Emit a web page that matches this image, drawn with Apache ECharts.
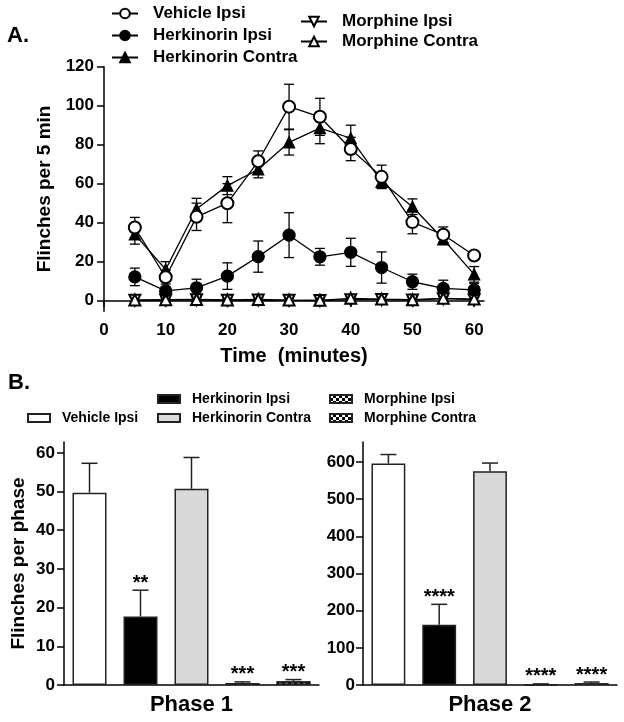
<!DOCTYPE html>
<html><head><meta charset="utf-8">
<script src="https://cdn.jsdelivr.net/npm/echarts@6/dist/echarts.min.js"></script>
<style>html,body{margin:0;padding:0;background:#fff}#c{width:624px;height:722px}</style>
</head><body><div id="c"></div>
<script>
// ---------- Panel A data (time course) ----------
const timeMin = [5, 10, 15, 20, 25, 30, 35, 40, 45, 50, 55, 60];
const vehicleIpsi = [37.5, 12, 43, 50, 71.5, 99.5, 94.3, 77.8, 63.5, 40.3, 33.8, 23.2];
const vehicleIpsiErr = [5.2, 3.5, 7, 10, 5.3, 11.5, 9.5, 6, 6, 6, 4, 1.2];
const herkIpsi = [12.2, 5, 6.6, 12.6, 22.6, 33.6, 22.5, 24.8, 17, 9.7, 6.3, 5.5];
const herkIpsiErr = [4.5, 2, 4.4, 6.8, 8, 11.5, 4.3, 7.2, 8, 3.9, 4.2, 3.4];
const herkContra = [34, 16, 47, 59, 67.3, 81.2, 88.5, 83.3, 61, 48.2, 31.5, 13.5];
const herkContraErr = [5, 4, 5.5, 4.6, 4.3, 6.5, 8, 6.7, 3, 4, 1.5, 4];
const morphIpsi = [0.2, 0.3, 0.5, 0.2, 0.3, 0.2, 0.1, 0.5, 0.6, 0.3, 1.0, 0.5];
const morphIpsiErr = [1.5, 1.2, 1.2, 1.2, 1.2, 1.0, 1.0, 1.2, 1.5, 1.2, 1.5, 1.2];
const morphContra = [0.4, 0.5, 0.6, 0.4, 0.6, 0.3, 0.2, 1.2, 0.8, 0.5, 1.2, 0.8];
const morphContraErr = [1.5, 1.2, 1.2, 1.2, 1.2, 1.0, 1.0, 1.5, 1.5, 1.2, 1.5, 1.5];
const xTicksA = [0, 10, 20, 30, 40, 50, 60];
const yTicksA = [0, 20, 40, 60, 80, 100, 120];

// ---------- Panel B data (phases) ----------
const groups = ['Vehicle Ipsi', 'Herkinorin Ipsi', 'Herkinorin Contra', 'Morphine Ipsi', 'Morphine Contra'];
const phase1Mean = [49.7, 17.7, 50.7, 0.5, 1.0];
const phase1Sem = [7.6, 6.8, 8.1, 0.3, 0.4];
const phase1Stars = ['', '**', '', '***', '***'];
const phase2Mean = [596, 162, 575, 2, 5];
const phase2Sem = [24, 55, 22, 1, 3];
const phase2Stars = ['', '****', '', '****', '****'];
const yTicksB1 = [0, 10, 20, 30, 40, 50, 60];
const yTicksB2 = [0, 100, 200, 300, 400, 500, 600];

const FONT = '"Liberation Sans", Arial, Helvetica, sans-serif';
const chart = echarts.init(document.getElementById('c'), null, {renderer: 'canvas'});

const axisLine = {show: true, lineStyle: {color: '#000', width: 1.5}};
const tickLbl = {fontFamily: FONT, fontWeight: 'bold', fontSize: 17, color: '#000'};

function errSeriesA(ys, es) {
  return {
    type: 'custom', xAxisIndex: 0, yAxisIndex: 0, silent: true, z: 1,
    data: timeMin.map((t, i) => [t, ys[i], es[i]]),
    encode: {x: 0, y: 1},
    renderItem: (params, api) => {
      const x = api.value(0), y = api.value(1), e = api.value(2);
      const top = api.coord([x, y + e]), bot = api.coord([x, y - e]);
      const c = 5, st = {stroke: '#000', lineWidth: 1.3};
      return {type: 'group', children: [
        {type: 'line', shape: {x1: top[0], y1: top[1], x2: bot[0], y2: bot[1]}, style: st},
        {type: 'line', shape: {x1: top[0] - c, y1: top[1], x2: top[0] + c, y2: top[1]}, style: st},
        {type: 'line', shape: {x1: bot[0] - c, y1: bot[1], x2: bot[0] + c, y2: bot[1]}, style: st}
      ]};
    }
  };
}

function lineSeries(name, ys, symbol, extra) {
  return Object.assign({
    type: 'line', name: name, xAxisIndex: 0, yAxisIndex: 0,
    data: timeMin.map((t, i) => [t, ys[i]]),
    symbol: symbol, symbolSize: 12, z: 3,
    lineStyle: {color: '#000', width: 1.3},
    itemStyle: {color: '#000', borderColor: '#000', borderWidth: 1.3}
  }, extra || {});
}

const checker = {symbol: 'rect', symbolSize: 1, color: '#000',
  dashArrayX: [[3, 3], [0, 3, 3, 0]], dashArrayY: [3, 0], rotation: 0};
const fills = ['#ffffff', '#000000', '#d9d9d9', '#ffffff', '#ffffff'];
const decals = [null, null, null, checker, checker];

function barSeries(k, means) {
  return groups.map((g, i) => {
    const st = {color: fills[i], borderColor: '#222', borderWidth: 1.5};
    if (decals[i]) st.decal = decals[i];
    return {type: 'bar', name: 'B:' + g, xAxisIndex: k, yAxisIndex: k,
      data: [means[i]], barGap: '50%', barCategoryGap: '6.667%', itemStyle: st, z: 2};
  });
}

function barErrSeries(k, means, sems, stars) {
  return {
    type: 'custom', xAxisIndex: k, yAxisIndex: k, silent: true, z: 5,
    data: means.map((m, i) => [0, m, sems[i], i]),
    encode: {x: 0, y: 1},
    renderItem: (params, api) => {
      const m = api.value(1), e = api.value(2), i = api.value(3);
      const band = api.size([1, 0])[0];
      const cx = api.coord([0, 0])[0] + (i - 2) * band / 5;
      const yTop = api.coord([0, m + e])[1];
      const yM = api.coord([0, m])[1];
      const st = {stroke: '#222', lineWidth: 1.5};
      const ch = [
        {type: 'line', shape: {x1: cx, y1: yM, x2: cx, y2: yTop}, style: st},
        {type: 'line', shape: {x1: cx - 8, y1: yTop, x2: cx + 8, y2: yTop}, style: st}
      ];
      if (stars[i]) ch.push({type: 'text', style: {text: stars[i], x: cx, y: yTop - 7,
        align: 'center', verticalAlign: 'middle', font: 'bold 20px ' + FONT, fill: '#000'}});
      return {type: 'group', children: ch};
    }
  };
}

const legendTextA = {fontFamily: FONT, fontWeight: 'bold', fontSize: 17, color: '#000', lineHeight: 17};
const legendTextB = {fontFamily: FONT, fontWeight: 'bold', fontSize: 14, color: '#000', lineHeight: 16};

const option = {
  animation: false,
  backgroundColor: '#fff',
  title: [
    {text: 'A.', left: 7, top: 25, padding: 0, textStyle: {fontFamily: FONT, fontWeight: 'bold', fontSize: 22, color: '#000'}},
    {text: 'B.', left: 8, top: 372, padding: 0, textStyle: {fontFamily: FONT, fontWeight: 'bold', fontSize: 22, color: '#000'}}
  ],
  legend: [
    {orient: 'vertical', left: 111, top: 5, padding: 0, itemWidth: 26, itemHeight: 12, itemGap: 5, selectedMode: false,
      iconRotate: 'inherit', data: ['Vehicle Ipsi', 'Herkinorin Ipsi', 'Herkinorin Contra'],
      textStyle: Object.assign({padding: [0, 0, 0, 10]}, legendTextA)},
    {orient: 'vertical', left: 300, top: 13, padding: 0, itemWidth: 26, itemHeight: 12, itemGap: 3, selectedMode: false,
      iconRotate: 'inherit', data: ['Morphine Ipsi', 'Morphine Contra'],
      textStyle: Object.assign({padding: [0, 0, 0, 10]}, legendTextA)},
    {orient: 'vertical', left: 27, top: 410, padding: 0, itemWidth: 22, itemHeight: 8, itemGap: 3, selectedMode: false,
      icon: 'rect', data: ['B:Vehicle Ipsi'], formatter: n => n.replace(/^B:/, ''),
      textStyle: Object.assign({padding: [0, 0, 0, 7]}, legendTextB)},
    {orient: 'vertical', left: 157, top: 391, padding: 0, itemWidth: 22, itemHeight: 8, itemGap: 3, selectedMode: false,
      icon: 'rect', data: ['B:Herkinorin Ipsi', 'B:Herkinorin Contra'], formatter: n => n.replace(/^B:/, ''),
      textStyle: Object.assign({padding: [0, 0, 0, 7]}, legendTextB)},
    {orient: 'vertical', left: 329, top: 391, padding: 0, itemWidth: 22, itemHeight: 8, itemGap: 3, selectedMode: false,
      icon: 'rect', data: ['B:Morphine Ipsi', 'B:Morphine Contra'], formatter: n => n.replace(/^B:/, ''),
      textStyle: Object.assign({padding: [0, 0, 0, 7]}, legendTextB)}
  ],
  grid: [
    {left: 104, top: 66.7, width: 380, height: 244.5, containLabel: false, outerBoundsMode: 'none'},
    {left: 64, top: 442, width: 255, height: 243, containLabel: false, outerBoundsMode: 'none'},
    {left: 363, top: 442, width: 254, height: 243, containLabel: false, outerBoundsMode: 'none'}
  ],
  xAxis: [
    {type: 'value', gridIndex: 0, min: 0, max: 61.6, axisLine: axisLine,
      axisTick: {show: true, length: 6, customValues: xTicksA, lineStyle: {color: '#000', width: 1.5}},
      axisLabel: Object.assign({customValues: xTicksA, margin: 11}, tickLbl), splitLine: {show: false},
      name: 'Time  (minutes)', nameLocation: 'middle', nameGap: 35,
      nameTextStyle: {fontFamily: FONT, fontWeight: 'bold', fontSize: 20, color: '#000'}},
    {type: 'category', gridIndex: 1, data: ['Phase 1'], axisLine: axisLine, axisTick: {show: false},
      axisLabel: {fontFamily: FONT, fontWeight: 'bold', fontSize: 22, color: '#000', margin: 9}},
    {type: 'category', gridIndex: 2, data: ['Phase 2'], axisLine: axisLine, axisTick: {show: false},
      axisLabel: {fontFamily: FONT, fontWeight: 'bold', fontSize: 22, color: '#000', margin: 9}}
  ],
  yAxis: [
    {type: 'value', gridIndex: 0, min: -5.4, max: 120, axisLine: axisLine,
      axisTick: {show: true, length: 7, customValues: yTicksA, lineStyle: {color: '#000', width: 1.5}},
      axisLabel: Object.assign({customValues: yTicksA, margin: 10}, tickLbl), splitLine: {show: false},
      name: 'Flinches per 5 min', nameLocation: 'middle', nameGap: 48, nameRotate: 90,
      nameTextStyle: {fontFamily: FONT, fontWeight: 'bold', fontSize: 19, color: '#000'}},
    {type: 'value', gridIndex: 1, min: 0, max: 62.8, axisLine: axisLine,
      axisTick: {show: true, length: 7, customValues: yTicksB1, lineStyle: {color: '#000', width: 1.5}},
      axisLabel: Object.assign({customValues: yTicksB1, margin: 9}, tickLbl), splitLine: {show: false},
      name: 'Flinches per phase', nameLocation: 'middle', nameGap: 36, nameRotate: 90,
      nameTextStyle: {fontFamily: FONT, fontWeight: 'bold', fontSize: 19, color: '#000'}},
    {type: 'value', gridIndex: 2, min: 0, max: 653.7, axisLine: axisLine,
      axisTick: {show: true, length: 7, customValues: yTicksB2, lineStyle: {color: '#000', width: 1.5}},
      axisLabel: Object.assign({customValues: yTicksB2, margin: 8}, tickLbl), splitLine: {show: false}}
  ],
  series: [
    errSeriesA(morphIpsi, morphIpsiErr),
    errSeriesA(morphContra, morphContraErr),
    errSeriesA(herkIpsi, herkIpsiErr),
    errSeriesA(herkContra, herkContraErr),
    errSeriesA(vehicleIpsi, vehicleIpsiErr),
    lineSeries('Morphine Ipsi', morphIpsi, 'emptyTriangle', {symbolSize: 11, symbolRotate: 180}),
    lineSeries('Morphine Contra', morphContra, 'emptyTriangle', {symbolSize: 11}),
    lineSeries('Herkinorin Ipsi', herkIpsi, 'circle'),
    lineSeries('Herkinorin Contra', herkContra, 'triangle', {symbolSize: 11}),
    lineSeries('Vehicle Ipsi', vehicleIpsi, 'emptyCircle')
  ].concat(barSeries(1, phase1Mean), barSeries(2, phase2Mean), [
    barErrSeries(1, phase1Mean, phase1Sem, phase1Stars),
    barErrSeries(2, phase2Mean, phase2Sem, phase2Stars)
  ])
};
chart.setOption(option);
</script>
</body></html>
